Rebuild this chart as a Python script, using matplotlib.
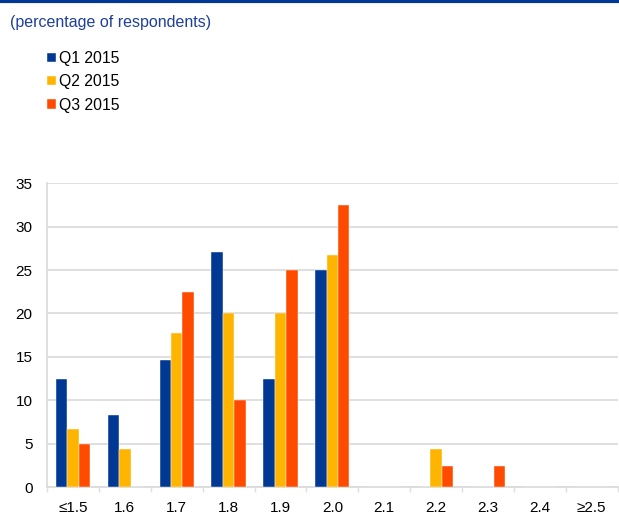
import matplotlib
matplotlib.use("Agg")
import matplotlib.pyplot as plt
import numpy as np
from matplotlib.lines import Line2D

categories = ["≤1.5", "1.6", "1.7", "1.8", "1.9", "2.0", "2.1", "2.2", "2.3", "2.4", "≥2.5"]
series_names = ["Q1 2015", "Q2 2015", "Q3 2015"]
q1 = [12.5, 8.3, 14.6, 27.1, 12.5, 25.0, 0, 0, 0, 0, 0]
q2 = [6.7, 4.4, 17.8, 20.0, 20.0, 26.7, 0, 4.4, 0, 0, 0]
q3 = [5.0, 0, 22.5, 10.0, 25.0, 32.5, 0, 2.5, 2.5, 0, 0]
colors = ["#003894", "#FFB400", "#FF4B00"]

plt.rcParams['font.family'] = ['Liberation Sans', 'DejaVu Sans']

fig = plt.figure(figsize=(6.19, 5.27), dpi=100)
ax = fig.add_axes([0.0759, 0.0753, 0.922, 0.5773])

x = np.arange(len(categories))
w = 0.22
handles = []
for i, (vals, c, name) in enumerate(zip([q1, q2, q3], colors, series_names)):
    b = ax.bar(x + (i - 1) * w, vals, width=w, color=c, label=name, zorder=3,
               edgecolor="white", linewidth=0.3)
    handles.append(b)

ax.set_xlim(-0.5, len(categories) - 0.5)
ax.set_ylim(0, 35)
ax.set_yticks(np.arange(0, 36, 5))
ax.yaxis.grid(True, color="#d9d9d9", linewidth=1.2, zorder=0)
ax.set_axisbelow(True)
ax.set_xticks(x)
ax.set_xticklabels(categories)
ax.set_xticks(np.arange(-0.5, len(categories), 1.0), minor=True)
ax.tick_params(axis="x", which="major", length=0, pad=10, labelsize=11)
ax.tick_params(axis="x", which="minor", length=3.5, color="#e0e0e0", width=1.0, direction="out")
ax.tick_params(axis="y", length=0, pad=10.5, labelsize=11)
for s in ["top", "right"]:
    ax.spines[s].set_visible(False)
for s in ["left", "bottom"]:
    ax.spines[s].set_color("#d9d9d9")
    ax.spines[s].set_linewidth(1.2)

# top rule
fig.add_artist(Line2D([0, 1], [0.998, 0.998], transform=fig.transFigure,
                      color="#003894", linewidth=3))
fig.text(10 / 619, 1 - 22 / 527, "(percentage of respondents)", color="#1f3f9a",
         fontsize=11.5, va="center", ha="left")

leg = fig.legend(handles=handles, labels=series_names, loc="upper left",
                 bbox_to_anchor=(47 / 619, 1 - 51 / 527), frameon=False,
                 handlelength=0.55, handleheight=0.55, handletextpad=0.2,
                 labelspacing=0.53, fontsize=11.3, borderaxespad=0, borderpad=0)

fig.savefig("out.png", dpi=100)
